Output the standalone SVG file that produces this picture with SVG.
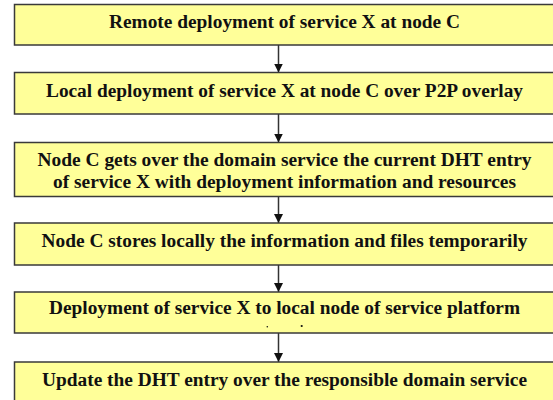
<svg xmlns="http://www.w3.org/2000/svg" width="553" height="400" viewBox="0 0 553 400">
  <style>
    .box { fill: #ffff99; stroke: #3a3a3a; stroke-width: 1.5; }
    .lbl { font-family: "Liberation Serif", "Times New Roman", serif; font-weight: bold; font-size: 18px; fill: #111; text-anchor: middle; }
    .conn { stroke: #333; stroke-width: 1.5; fill: none; marker-end: url(#arrow); }
  </style>
  <defs>
    <marker id="arrow" viewBox="0 0 10 10" refX="10" refY="5" markerUnits="userSpaceOnUse" markerWidth="9" markerHeight="9" orient="auto">
      <path d="M0,0 L10,5 L0,10 z" fill="#111"/>
    </marker>
  </defs>
  <rect width="553" height="400" fill="#ffffff"/>

  <g id="connectors">
    <line class="conn" x1="278.5" y1="45" x2="278.5" y2="72.5"/>
    <line class="conn" x1="278.5" y1="114" x2="278.5" y2="142.5"/>
    <line class="conn" x1="278.5" y1="196.5" x2="278.5" y2="223"/>
    <line class="conn" x1="278.5" y1="265" x2="278.5" y2="292"/>
    <line class="conn" x1="278.5" y1="333" x2="278.5" y2="362"/>
  </g>

  <g id="remote-deployment">
    <rect class="box" x="14.5" y="4.5" width="560" height="40.5"/>
    <text class="lbl" x="284.5" y="27.5" textLength="351" lengthAdjust="spacingAndGlyphs">Remote deployment of service X at node C</text>
  </g>

  <g id="local-deployment">
    <rect class="box" x="14.5" y="72.5" width="560" height="41.5"/>
    <text class="lbl" x="284.5" y="96.5" textLength="477" lengthAdjust="spacingAndGlyphs">Local deployment of service X at node C over P2P overlay</text>
  </g>

  <g id="get-dht-entry">
    <rect class="box" x="14.5" y="142.5" width="560" height="54"/>
    <text class="lbl" x="284.5" y="165.7" textLength="494" lengthAdjust="spacingAndGlyphs">Node C gets over the domain service the current DHT entry</text>
    <text class="lbl" x="284.5" y="187.7" textLength="463" lengthAdjust="spacingAndGlyphs">of service X with deployment information and resources</text>
  </g>

  <g id="store-locally">
    <rect class="box" x="14.5" y="223" width="560" height="42"/>
    <text class="lbl" x="284.5" y="247" textLength="486" lengthAdjust="spacingAndGlyphs">Node C stores locally the information and files temporarily</text>
  </g>

  <g id="deploy-to-platform">
    <rect class="box" x="14.5" y="292" width="560" height="41"/>
    <text class="lbl" x="284.5" y="314" textLength="471" lengthAdjust="spacingAndGlyphs">Deployment of service X to local node of service platform</text>
    <circle cx="267.3" cy="326.8" r="0.8" fill="#111"/>
    <circle cx="301.7" cy="326" r="1.1" fill="#111"/>
  </g>

  <g id="update-dht-entry">
    <rect class="box" x="14.5" y="362" width="560" height="50"/>
    <text class="lbl" x="284.5" y="386" textLength="485" lengthAdjust="spacingAndGlyphs">Update the DHT entry over the responsible domain service</text>
  </g>
</svg>
